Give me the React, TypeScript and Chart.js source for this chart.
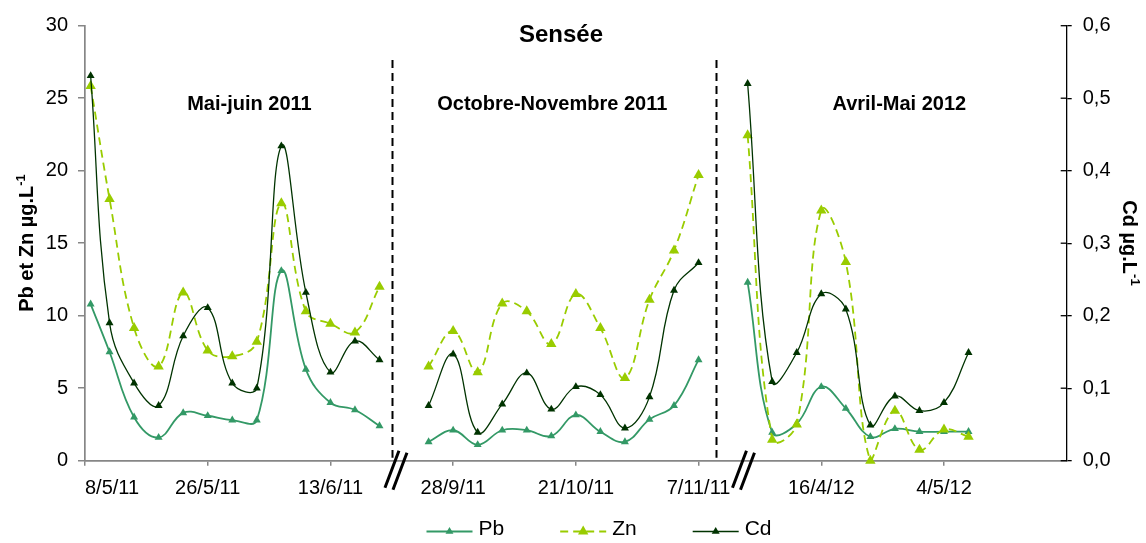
import React, { useEffect, useRef } from 'react';
import { Chart, registerables } from 'chart.js';

Chart.register(...registerables);

// Sample positions along the (broken) time axis, in sampling-step units
const samplePositions = [
  0.23, 1, 2, 3, 4, 5, 6, 7, 8, 9, 10, 11, 12, 13,
  14, 15, 16, 17, 18, 19, 20, 21, 22, 23, 24, 25, 26,
  27, 28, 29, 30, 31, 32, 33, 34, 35, 36,
];

// Pb (µg/L) – left axis
const pbValues = [
  10.8, 7.5, 3.0, 1.6, 3.3, 3.1, 2.8, 2.8, 13.1, 6.3, 4.0, 3.5, 2.4, null,
  1.3, 2.1, 1.1, 2.1, 2.1, 1.7, 3.15, 2.0, 1.3, 2.85, 3.8, 6.95, null,
  12.3, 1.95, 2.55, 5.1, 3.6, 1.65, 2.2, 2.0, 2.0, 2.0,
];

// Zn (µg/L) – left axis
const znValues = [
  25.85, 18.05, 9.15, 6.5, 11.6, 7.6, 7.2, 8.2, 17.75, 10.3, 9.45, 8.85, 12.0, null,
  6.5, 8.95, 6.1, 10.85, 10.3, 8.05, 11.5, 9.15, 5.7, 11.1, 14.5, 19.7, null,
  22.45, 1.45, 2.5, 17.25, 13.7, 0.0, 3.45, 0.75, 2.15, 1.65,
];

// Cd (µg/L) – right axis
const cdValues = [
  0.531, 0.19, 0.107, 0.076, 0.172, 0.211, 0.107, 0.1, 0.434, 0.232, 0.122, 0.165, 0.139, null,
  0.076, 0.147, 0.039, 0.078, 0.121, 0.071, 0.102, 0.091, 0.045, 0.088, 0.235, 0.273, null,
  0.52, 0.109, 0.149, 0.23, 0.209, 0.049, 0.089, 0.069, 0.08, 0.149,
];

const xTickLabels = ['8/5/11', '26/5/11', '13/6/11', '28/9/11', '21/10/11', '7/11/11', '16/4/12', '4/5/12'];

const periodLabels = ['Mai-juin 2011', 'Octobre-Novembre 2011', 'Avril-Mai 2012'];
const periodCenters = [6.7, 19.04, 33.18];
const separatorPositions = [12.52, 25.7];
const breakPositions = [12.67, 26.83];

const seriesNames = ['Pb', 'Zn', 'Cd'];
const seriesColors = ['#339966', '#99CC00', '#003300'];

const FONT = "'Liberation Sans', Arial, sans-serif";
const AXIS_GREY = '#868686';

function toPoints(values: (number | null)[]) {
  return values.map((v, i) => ({ x: samplePositions[i], y: v }));
}

function drawTriangle(ctx: CanvasRenderingContext2D, cx: number, cy: number, r: number, color: string) {
  ctx.beginPath();
  ctx.moveTo(cx, cy - r);
  ctx.lineTo(cx + r * Math.sin((2 * Math.PI) / 3), cy - r * Math.cos((2 * Math.PI) / 3));
  ctx.lineTo(cx + r * Math.sin((4 * Math.PI) / 3), cy - r * Math.cos((4 * Math.PI) / 3));
  ctx.closePath();
  ctx.fillStyle = color;
  ctx.fill();
}

const decorPlugin = {
  id: 'decor',
  afterDraw(chart: any) {
    const ctx: CanvasRenderingContext2D = chart.ctx;
    const xs = chart.scales.x;
    const ys = chart.scales.y;
    const y1 = chart.scales.y1;
    ctx.save();

    // vertical dashed separators
    ctx.strokeStyle = '#000';
    ctx.lineWidth = 2;
    ctx.setLineDash([8, 5]);
    separatorPositions.forEach((s) => {
      const px = Math.round(xs.getPixelForValue(s)) + 0.5;
      ctx.beginPath();
      ctx.moveTo(px, 60);
      ctx.lineTo(px, ys.bottom - 3);
      ctx.stroke();
    });
    ctx.setLineDash([]);

    // axis break marks
    ctx.lineWidth = 3;
    breakPositions.forEach((b) => {
      const cx = xs.getPixelForValue(b);
      const cy = ys.bottom + 9;
      ctx.beginPath();
      ctx.moveTo(cx - 11, cy + 18);
      ctx.lineTo(cx + 3, cy - 19);
      ctx.moveTo(cx - 3, cy + 20);
      ctx.lineTo(cx + 11, cy - 17);
      ctx.stroke();
    });

    // inner tick marks on the right axis
    ctx.lineWidth = 1.3;
    ctx.strokeStyle = '#000';
    y1.ticks.forEach((t: any) => {
      const py = y1.getPixelForValue(t.value);
      ctx.beginPath();
      ctx.moveTo(y1.left - 6, py);
      ctx.lineTo(y1.left, py);
      ctx.stroke();
    });

    // title
    ctx.fillStyle = '#000';
    ctx.textAlign = 'center';
    ctx.textBaseline = 'alphabetic';
    ctx.font = `bold 24px ${FONT}`;
    ctx.fillText('Sensée', 561, 41.5);

    // period labels
    ctx.font = `bold 20px ${FONT}`;
    periodLabels.forEach((lbl, i) => {
      ctx.fillText(lbl, xs.getPixelForValue(periodCenters[i]), 109.5);
    });

    // axis titles (rotated) with superscript
    const drawRotatedTitle = (main: string, sup: string, x: number, yc: number, angle: number) => {
      ctx.save();
      ctx.translate(x, yc);
      ctx.rotate(angle);
      ctx.textAlign = 'left';
      ctx.font = `bold 20px ${FONT}`;
      const w1 = ctx.measureText(main).width;
      ctx.font = `bold 13px ${FONT}`;
      const w2 = ctx.measureText(sup).width;
      const start = -(w1 + w2) / 2;
      ctx.font = `bold 20px ${FONT}`;
      ctx.fillText(main, start, 0);
      ctx.font = `bold 13px ${FONT}`;
      ctx.fillText(sup, start + w1, -8);
      ctx.restore();
    };
    drawRotatedTitle('Pb et Zn µg.L', '-1', 33.3, 243, -Math.PI / 2);
    drawRotatedTitle('Cd µg.L', '-1', 1123.3, 243, Math.PI / 2);

    // legend
    ctx.textAlign = 'left';
    ctx.textBaseline = 'middle';
    let lx = 426.5;
    const ly = 531.5;
    const radii = [4.6, 6, 4.6];
    seriesNames.forEach((name, i) => {
      ctx.strokeStyle = seriesColors[i];
      ctx.lineWidth = i === 2 ? 1.3 : 1.8;
      ctx.setLineDash(i === 1 ? [8, 5] : []);
      ctx.beginPath();
      ctx.moveTo(lx, ly);
      ctx.lineTo(lx + 46, ly);
      ctx.stroke();
      ctx.setLineDash([]);
      drawTriangle(ctx, lx + 23, ly, radii[i], seriesColors[i]);
      ctx.fillStyle = '#000';
      ctx.font = `21px ${FONT}`;
      ctx.fillText(name, lx + 52, ly - 2);
      const tw = ctx.measureText(name).width;
      lx += 52 + tw + 56;
    });

    ctx.restore();
  },
};

export default function App() {
  const canvasRef = useRef<HTMLCanvasElement | null>(null);

  useEffect(() => {
    if (!canvasRef.current) return;
    Chart.defaults.font.family = FONT;
    Chart.defaults.font.size = 20;
    Chart.defaults.color = '#000';

    const chart = new Chart(canvasRef.current, {
      type: 'line',
      data: {
        datasets: [
          {
            label: seriesNames[0],
            data: toPoints(pbValues),
            yAxisID: 'y',
            borderColor: seriesColors[0],
            backgroundColor: seriesColors[0],
            borderWidth: 1.8,
            pointStyle: 'triangle',
            pointRadius: 4.6,
            pointBorderWidth: 0,
            tension: 0.4,
            spanGaps: false,
            clip: false as any,
            order: 3,
          },
          {
            label: seriesNames[1],
            data: toPoints(znValues),
            yAxisID: 'y',
            borderColor: seriesColors[1],
            backgroundColor: seriesColors[1],
            borderWidth: 1.8,
            borderDash: [8, 5],
            pointStyle: 'triangle',
            pointRadius: 6,
            pointBorderWidth: 0,
            tension: 0.4,
            spanGaps: false,
            clip: false as any,
            order: 2,
          },
          {
            label: seriesNames[2],
            data: toPoints(cdValues),
            yAxisID: 'y1',
            borderColor: seriesColors[2],
            backgroundColor: seriesColors[2],
            borderWidth: 1.3,
            pointStyle: 'triangle',
            pointRadius: 4.6,
            pointBorderWidth: 0,
            tension: 0.4,
            spanGaps: false,
            clip: false as any,
            order: 1,
          },
        ],
      },
      options: {
        responsive: false,
        animation: false,
        events: [],
        layout: { padding: { top: 25.7, left: 0, right: 0, bottom: 0 } },
        plugins: {
          legend: { display: false },
          tooltip: { enabled: false },
          title: { display: false },
        },
        scales: {
          x: {
            type: 'linear',
            min: 0,
            max: 40,
            grid: {
              drawOnChartArea: false,
              tickLength: 5,
              lineWidth: 1.5,
              color: (c: any) => (c.tick && c.tick.value === 40 ? 'rgba(0,0,0,0)' : AXIS_GREY),
            },
            border: { color: AXIS_GREY, width: 1.7 },
            ticks: {
              stepSize: 5,
              autoSkip: false,
              maxRotation: 0,
              align: 'inner',
              padding: 11,
              font: { size: 20 },
              callback: (v: any) => {
                const n = Number(v);
                return n % 5 === 0 && xTickLabels[n / 5] ? xTickLabels[n / 5] : '';
              },
            },
            afterFit: (s: any) => {
              s.height = 82.3;
            },
          },
          y: {
            position: 'left',
            min: 0,
            max: 30,
            grid: { drawOnChartArea: false, tickLength: 7, color: AXIS_GREY, lineWidth: 1.5 },
            border: { color: AXIS_GREY, width: 1.7 },
            ticks: { stepSize: 5, padding: 10, font: { size: 20 } },
            afterFit: (s: any) => {
              s.width = 85;
            },
          },
          y1: {
            position: 'right',
            min: 0,
            max: 0.6,
            grid: { drawOnChartArea: false, tickLength: 5, color: '#000', lineWidth: 1.3 },
            border: { color: '#000', width: 1.3 },
            ticks: {
              stepSize: 0.1,
              padding: 11,
              font: { size: 20 },
              callback: (v: any) => Number(v).toFixed(1).replace('.', ','),
            },
            afterFit: (s: any) => {
              s.width = 79.3;
            },
          },
        },
      },
      plugins: [decorPlugin],
    } as any);

    return () => {
      chart.destroy();
    };
  }, []);

  return (
    <div style={{ position: 'absolute', left: 0, top: 0, width: '1146px', height: '543px', background: '#fff' }}>
      <canvas ref={canvasRef} width={1146} height={543} />
    </div>
  );
}
